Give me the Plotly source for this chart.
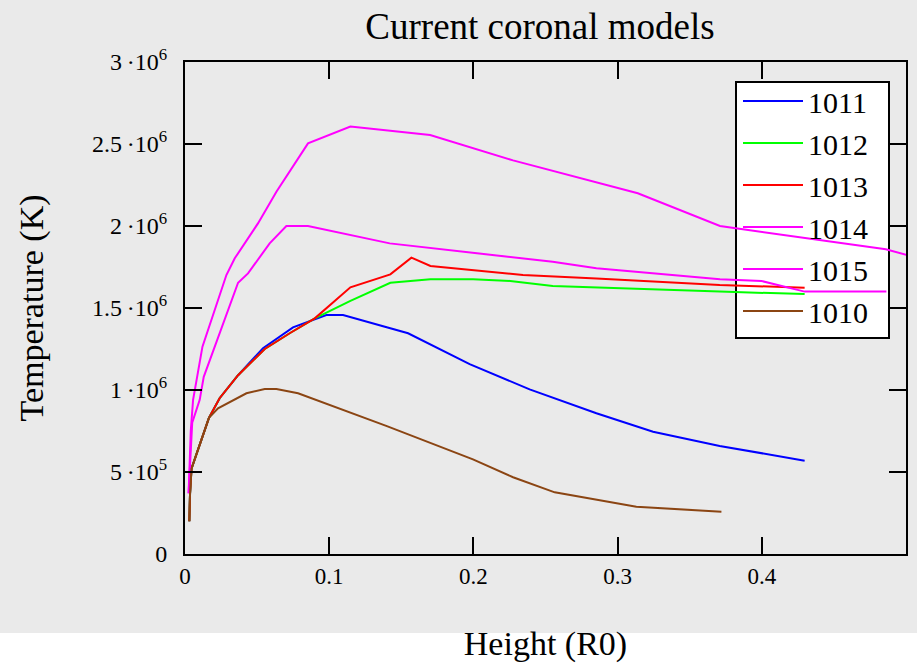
import plotly.graph_objects as go

# ---- data (height in R0, temperature in K) ----
x1011 = [0.003, 0.0035, 0.0045, 0.0166, 0.024, 0.0368, 0.0541, 0.0749, 0.098, 0.1096, 0.1547, 0.1974, 0.239, 0.2853, 0.3246, 0.3708, 0.4297]
y1011 = [0.2e6, 0.37e6, 0.52e6, 0.83e6, 0.95e6, 1.09e6, 1.255e6, 1.382e6, 1.457e6, 1.457e6, 1.346e6, 1.158e6, 1.004e6, 0.858e6, 0.746e6, 0.659e6, 0.569e6]

x1012 = [0.003, 0.0035, 0.0045, 0.0166, 0.024, 0.0368, 0.0553, 0.0726, 0.09, 0.1147, 0.1424, 0.1702, 0.1998, 0.2255, 0.255, 0.2853, 0.3708, 0.4297]
y1012 = [0.2e6, 0.37e6, 0.52e6, 0.83e6, 0.95e6, 1.09e6, 1.25e6, 1.346e6, 1.437e6, 1.543e6, 1.654e6, 1.675e6, 1.675e6, 1.665e6, 1.634e6, 1.624e6, 1.6e6, 1.585e6]

x1013 = [0.003, 0.0035, 0.0045, 0.0166, 0.024, 0.0368, 0.0553, 0.0726, 0.09, 0.1147, 0.1424, 0.157, 0.1702, 0.2044, 0.2344, 0.2853, 0.3708, 0.4297]
y1013 = [0.2e6, 0.37e6, 0.52e6, 0.83e6, 0.95e6, 1.09e6, 1.25e6, 1.346e6, 1.437e6, 1.626e6, 1.705e6, 1.807e6, 1.756e6, 1.726e6, 1.701e6, 1.68e6, 1.64e6, 1.624e6]

x1014 = [0.0025, 0.004, 0.0056, 0.0121, 0.0287, 0.0345, 0.0506, 0.0634, 0.0853, 0.1147, 0.170, 0.2275, 0.314, 0.371, 0.486, 0.51]
y1014 = [0.37e6, 0.75e6, 0.94e6, 1.264e6, 1.701e6, 1.803e6, 2.016e6, 2.209e6, 2.504e6, 2.606e6, 2.555e6, 2.40e6, 2.20e6, 2.0e6, 1.858e6, 1.80e6]

x1015 = [0.0025, 0.005, 0.0102, 0.013, 0.0368, 0.0437, 0.0587, 0.0703, 0.0853, 0.142, 0.204, 0.255, 0.2853, 0.371, 0.3997, 0.4297, 0.4864]
y1015 = [0.37e6, 0.8e6, 0.94e6, 1.08e6, 1.654e6, 1.711e6, 1.894e6, 2.0e6, 2.0e6, 1.894e6, 1.833e6, 1.782e6, 1.742e6, 1.675e6, 1.665e6, 1.60e6, 1.60e6]

x1010 = [0.003, 0.0035, 0.0045, 0.0166, 0.0229, 0.0426, 0.0553, 0.0634, 0.0784, 0.14, 0.1997, 0.2275, 0.2564, 0.313, 0.372]
y1010 = [0.2e6, 0.37e6, 0.52e6, 0.83e6, 0.888e6, 0.98e6, 1.006e6, 1.006e6, 0.98e6, 0.78e6, 0.577e6, 0.468e6, 0.376e6, 0.288e6, 0.258e6]

names = ["1011", "1012", "1013", "1014", "1015", "1010"]
colors = ["#0000FF", "#00FF00", "#FF0000", "#FF00FF", "#FF00FF", "#8B4513"]
xs = [x1011, x1012, x1013, x1014, x1015, x1010]
ys = [y1011, y1012, y1013, y1014, y1015, y1010]

x_ticks = [0, 0.1, 0.2, 0.3, 0.4]
x_ticktext = ["0", "0.1", "0.2", "0.3", "0.4"]
y_ticks = [0, 5e5, 1e6, 1.5e6, 2e6, 2.5e6, 3e6]
y_ticktext = ["0", "5\u2009·10<sup>5</sup>", "1\u2009·10<sup>6</sup>", "1.5\u2009·10<sup>6</sup>",
              "2\u2009·10<sup>6</sup>", "2.5\u2009·10<sup>6</sup>", "3\u2009·10<sup>6</sup>"]

FONT = "Liberation Serif, Times New Roman, serif"
BG = "#EAEAEA"

fig = go.Figure()
for x, y, n, c in zip(xs, ys, names, colors):
    fig.add_trace(go.Scatter(x=x, y=y, name=n, mode="lines",
                             line=dict(color=c, width=2)))

W, H = 917, 663
L, R, T, B = 185, 11, 62, 109
pw, ph = W - L - R, H - T - B

def px_x(p):
    return (p - L) / pw

def px_y(p):
    return (H - B - p) / ph

axis_common = dict(showline=True, linecolor="black", linewidth=2, mirror="ticks",
                   tickmode="array", ticks="inside", ticklen=17, tickwidth=2,
                   tickcolor="black", showgrid=False, zeroline=False,
                   layer="above traces", showticklabels=True, automargin=False)

fig.update_layout(
    width=W, height=H,
    margin=dict(l=L, r=R, t=T, b=B, pad=0, autoexpand=False),
    paper_bgcolor=BG, plot_bgcolor=BG,
    font=dict(family=FONT, color="black", size=22),
    title=dict(text="Current coronal models", font=dict(size=37, family=FONT, color="black"),
               x=540 / W, xanchor="center", xref="container",
               y=1 - 26 / H, yanchor="middle", yref="container"),
    xaxis=dict(range=[0, 0.5], tickvals=x_ticks, ticktext=x_ticktext,
               tickfont=dict(size=23),
               title=dict(text="Height (R0)", font=dict(size=34), standoff=45),
               **axis_common),
    yaxis=dict(range=[0, 3e6], tickvals=y_ticks, ticktext=y_ticktext,
               tickfont=dict(size=24), ticklabelstandoff=11,
               title=dict(text="Temperature (K)", font=dict(size=34), standoff=38),
               **axis_common),
    legend=dict(x=px_x(738), y=px_y(75), xanchor="left", yanchor="top",
                bgcolor="rgba(0,0,0,0)", borderwidth=0,
                font=dict(size=30, family=FONT), itemwidth=60,
                tracegroupgap=0),
    showlegend=True,
    shapes=[
        # white strip at bottom of the page
        dict(type="rect", xref="paper", yref="paper", x0=-1, x1=2,
             y0=px_y(H + 20), y1=px_y(633), fillcolor="white", line=dict(width=0), layer="below"),
        # legend box (beneath the curves)
        dict(type="rect", xref="paper", yref="paper", x0=px_x(736), x1=px_x(889),
             y0=px_y(338), y1=px_y(82), fillcolor="white",
             line=dict(color="black", width=2), layer="below"),
    ],
)

fig.write_html("out.html")
